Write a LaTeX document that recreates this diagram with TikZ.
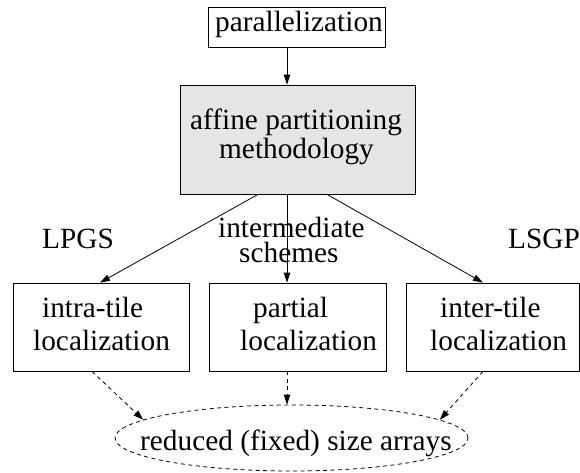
\documentclass[tikz,border=0pt]{standalone}
\usepackage{fontspec}
\setmainfont{Liberation Serif}
\usetikzlibrary{arrows.meta,shapes.geometric}
\definecolor{boxgray}{RGB}{229,229,229}
\begin{document}
\begin{tikzpicture}[x=1pt,y=-1pt,
  box/.style={draw,line width=0.8pt,inner sep=0pt,rectangle},
  lbl/.style={inner sep=0pt,anchor=base west,font=\fontsize{29.3}{33}\selectfont},
  conn/.style={line width=0.8pt,-{Triangle[length=10pt,width=6.5pt]}},
  dconn/.style={conn,dash pattern=on 4pt off 3.5pt}]
\useasboundingbox (0,0) rectangle (580,473);
% boxes
\node[box,minimum width=177pt,minimum height=40pt] (par) at (296.5,27) {};
\node[box,fill=boxgray,minimum width=235pt,minimum height=109pt] (aff) at (297.5,139.5) {};
\node[box,minimum width=176pt,minimum height=88pt] (intra) at (101,327) {};
\node[box,minimum width=177pt,minimum height=88pt] (part) at (297.5,327) {};
\node[box,minimum width=173pt,minimum height=88pt] (inter) at (492.5,327) {};
\node[draw,ellipse,line width=0.8pt,dash pattern=on 4pt off 3.5pt,inner sep=0pt,
      minimum width=353pt,minimum height=66pt] (ell) at (291.5,438) {};
% texts
\node[lbl] (tpar) at (215,32) {parallelization};
\node[lbl] (taff1) at (190,130) {affine partitioning};
\node[lbl] (taff2) at (219,159) {methodology};
\node[lbl] (tintra1) at (42,317) {intra-tile};
\node[lbl] (tintra2) at (33,350) {localization};
\node[lbl] (tpart1) at (253,317) {partial};
\node[lbl] (tpart2) at (240,350) {localization};
\node[lbl] (tinter1) at (440,317) {inter-tile};
\node[lbl] (tinter2) at (430,350) {localization};
\node[lbl] (tlpgs) at (42,248) {LPGS};
\node[lbl] (tlsgp) at (508,248) {LSGP};
\node[lbl] (tint1) at (218,237) {intermediate};
\node[lbl] (tint2) at (239,262) {schemes};
\node[lbl] (tell) at (140,450) {reduced (fixed) size arrays};
% connectors
\draw[conn] ([xshift=-9.5pt]par.south) -- ([xshift=-10.5pt]aff.north);
\draw[conn] ([xshift=-39.5pt]aff.south) -- ([xshift=-1pt]intra.north);
\draw[conn] ([xshift=-10.5pt]aff.south) -- ([xshift=-10.5pt]part.north);
\draw[conn] ([xshift=29.5pt]aff.south) -- ([xshift=-9.5pt]inter.north);
\draw[dconn] ([xshift=-9pt]intra.south) -- (ell.173);
\draw[dconn] ([xshift=-10.5pt]part.south) -- ([xshift=-10.5pt]part.south |- ell.north);
\draw[dconn] ([xshift=-9.5pt]inter.south) -- (ell.7);
\end{tikzpicture}
\end{document}
